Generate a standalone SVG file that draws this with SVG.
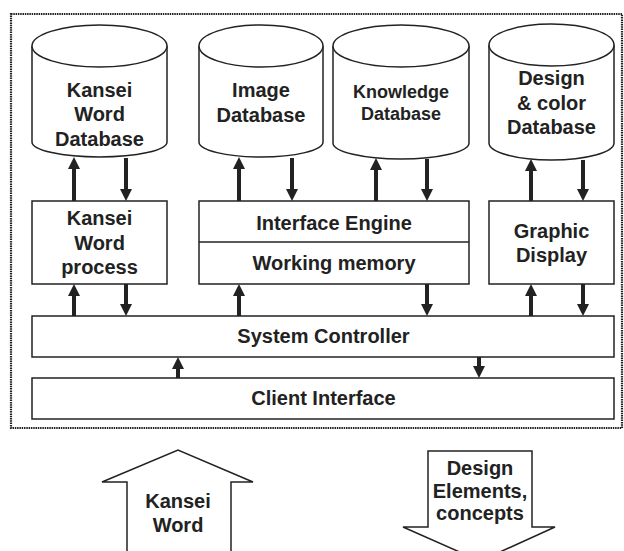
<svg xmlns="http://www.w3.org/2000/svg" width="624" height="551" viewBox="0 0 624 551">
<style>
.sh{fill:#fff;stroke:#222;stroke-width:1.5}
.t{font-family:"Liberation Sans",Arial,sans-serif;font-weight:bold;font-size:20px;fill:#222;text-anchor:middle}
.ts{font-size:18px}
.ar{stroke:#222;stroke-width:4;fill:none}
.up{marker-end:url(#ah)}
</style>
<defs>
<marker id="ah" viewBox="0 0 12 12" refX="2" refY="6" markerWidth="12" markerHeight="12" markerUnits="userSpaceOnUse" orient="auto">
<path d="M0,0 L12,6 L0,12 Z" fill="#222"/>
</marker>
</defs>
<rect x="0" y="0" width="624" height="551" fill="#fff"/>
<rect id="frame" x="11" y="14" width="611" height="414" fill="none" stroke="#222" stroke-width="2.2" stroke-dasharray="1.5 0.8"/>

<g id="kansei-db">
<path class="sh" d="M32,46 A67.5,21 0 0 1 167,46 L167,142 A67.5,15 0 0 1 32,142 Z"/>
<path class="sh" fill="none" d="M32,46 A67.5,21 0 0 0 167,46"/>
<text class="t"><tspan x="99.5" y="97">Kansei</tspan><tspan x="99.5" y="121">Word</tspan><tspan x="99.5" y="146">Database</tspan></text>
</g>
<g id="image-db">
<path class="sh" d="M199,46 A62,21 0 0 1 323,46 L323,142 A62,15 0 0 1 199,142 Z"/>
<path class="sh" fill="none" d="M199,46 A62,21 0 0 0 323,46"/>
<text class="t"><tspan x="261" y="97">Image</tspan><tspan x="261" y="122">Database</tspan></text>
</g>
<g id="knowledge-db">
<path class="sh" d="M333,46 A68,21 0 0 1 469,46 L469,143 A68,16 0 0 1 333,143 Z"/>
<path class="sh" fill="none" d="M333,46 A68,21 0 0 0 469,46"/>
<text class="t ts"><tspan x="401" y="98">Knowledge</tspan><tspan x="401" y="120">Database</tspan></text>
</g>
<g id="design-db">
<path class="sh" d="M489,45 A62.5,21 0 0 1 614,45 L614,143 A62.5,17 0 0 1 489,143 Z"/>
<path class="sh" fill="none" d="M489,45 A62.5,21 0 0 0 614,45"/>
<text class="t"><tspan x="551.5" y="85">Design</tspan><tspan x="551.5" y="110">&amp; color</tspan><tspan x="551.5" y="134">Database</tspan></text>
</g>

<g id="kansei-process">
<rect class="sh" x="32" y="201" width="135" height="83"/>
<text class="t"><tspan x="99.5" y="225">Kansei</tspan><tspan x="99.5" y="250">Word</tspan><tspan x="99.5" y="274">process</tspan></text>
</g>
<g id="interface-engine">
<rect class="sh" x="199" y="201" width="270" height="83"/>
<line x1="199" y1="242" x2="469" y2="242" stroke="#222" stroke-width="1.5"/>
<text class="t" x="334" y="230">Interface Engine</text>
<text class="t" x="334" y="270">Working memory</text>
</g>
<g id="graphic-display">
<rect class="sh" x="489" y="201" width="125" height="83"/>
<text class="t"><tspan x="551.5" y="238">Graphic</tspan><tspan x="551.5" y="262">Display</tspan></text>
</g>
<g id="system-controller">
<rect class="sh" x="32" y="316" width="582" height="41"/>
<text class="t" x="323.5" y="343">System Controller</text>
</g>
<g id="client-interface">
<rect class="sh" x="32" y="378" width="582" height="41"/>
<text class="t" x="323.5" y="405">Client Interface</text>
</g>

<g id="connectors">
<line class="ar up" x1="74" y1="201" x2="74" y2="167"/>
<line class="ar up" x1="126" y1="158" x2="126" y2="191"/>
<line class="ar up" x1="239" y1="201" x2="239" y2="167"/>
<line class="ar up" x1="292" y1="158" x2="292" y2="191"/>
<line class="ar up" x1="376" y1="201" x2="376" y2="168"/>
<line class="ar up" x1="427" y1="159" x2="427" y2="191"/>
<line class="ar up" x1="531" y1="201" x2="531" y2="169"/>
<line class="ar up" x1="583" y1="160" x2="583" y2="191"/>

<line class="ar up" x1="74" y1="316" x2="74" y2="294"/>
<line class="ar up" x1="126" y1="284" x2="126" y2="306"/>
<line class="ar up" x1="239" y1="316" x2="239" y2="294"/>
<line class="ar up" x1="427" y1="284" x2="427" y2="306"/>
<line class="ar up" x1="531" y1="316" x2="531" y2="294"/>
<line class="ar up" x1="583" y1="284" x2="583" y2="306"/>

<line class="ar up" x1="178" y1="378" x2="178" y2="367"/>
<line class="ar up" x1="479" y1="357" x2="479" y2="368"/>
</g>

<g id="input-arrow">
<path class="sh" d="M127,560 L127,482 L102,482 L178,450 L253,482 L231,482 L231,560"/>
<text class="t"><tspan x="178" y="508">Kansei</tspan><tspan x="178" y="532">Word</tspan></text>
</g>
<g id="output-arrow">
<path class="sh" d="M428,527 L428,451 L532,451 L532,527 L555,527 L480,561 L403,527 Z"/>
<text class="t"><tspan x="480" y="475">Design</tspan><tspan x="480" y="498">Elements,</tspan><tspan x="480" y="520">concepts</tspan></text>
</g>
</svg>
